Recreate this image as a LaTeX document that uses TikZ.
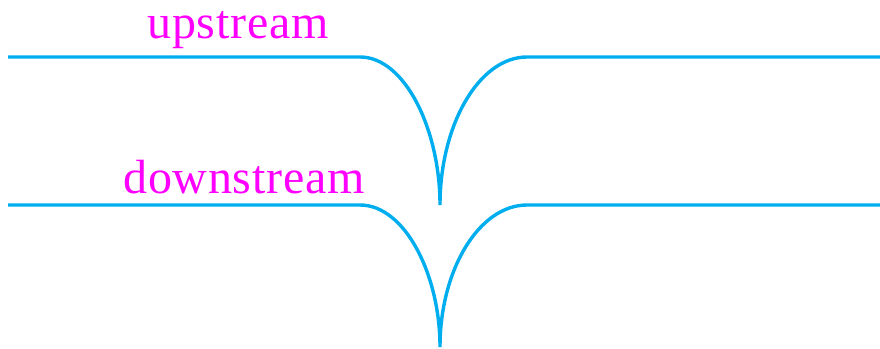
\documentclass[tikz,border=0pt]{standalone}
\usepackage{fontspec}
\setmainfont{Liberation Serif}
\usepackage{xcolor}
\usetikzlibrary{positioning}
\definecolor{flowcyan}{RGB}{0,174,239}
\definecolor{labelmag}{RGB}{255,0,255}

\begin{document}
\begin{tikzpicture}[
  x=1pt, y=-1pt,
  stream/.style={draw=flowcyan, line width=3.4pt},
  lbl/.style={text=labelmag, inner sep=0pt, anchor=base,
    font=\fontsize{48}{56}\selectfont\addfontfeatures{LetterSpace=1.5}},
]
\useasboundingbox (0,0) rectangle (880,348);
% upper profile
\coordinate (ul) at (8,57);
\coordinate (ua) at (360,57);
\coordinate (uc) at (440,205);
\coordinate (ub) at (527,57);
\coordinate (ur) at (880,57);
% lower profile
\coordinate (dl) at (8,205);
\coordinate (da) at (360,205);
\coordinate (dc) at (440,347);
\coordinate (db) at (527,205);
\coordinate (dr) at (880,205);
\node[lbl] (up) at (238,38) {upstream};
\node[lbl] (down) at (244,193) {downstream};
\draw[stream] (ul) -- (ua) .. controls +(45,0) and +(0,-75) .. (uc)
  .. controls +(0,-80) and +(-48,0) .. (ub) -- (ur);
\draw[stream] (dl) -- (da) .. controls +(45,0) and +(0,-72) .. (dc)
  .. controls +(0,-77) and +(-48,0) .. (db) -- (dr);
\end{tikzpicture}
\end{document}
